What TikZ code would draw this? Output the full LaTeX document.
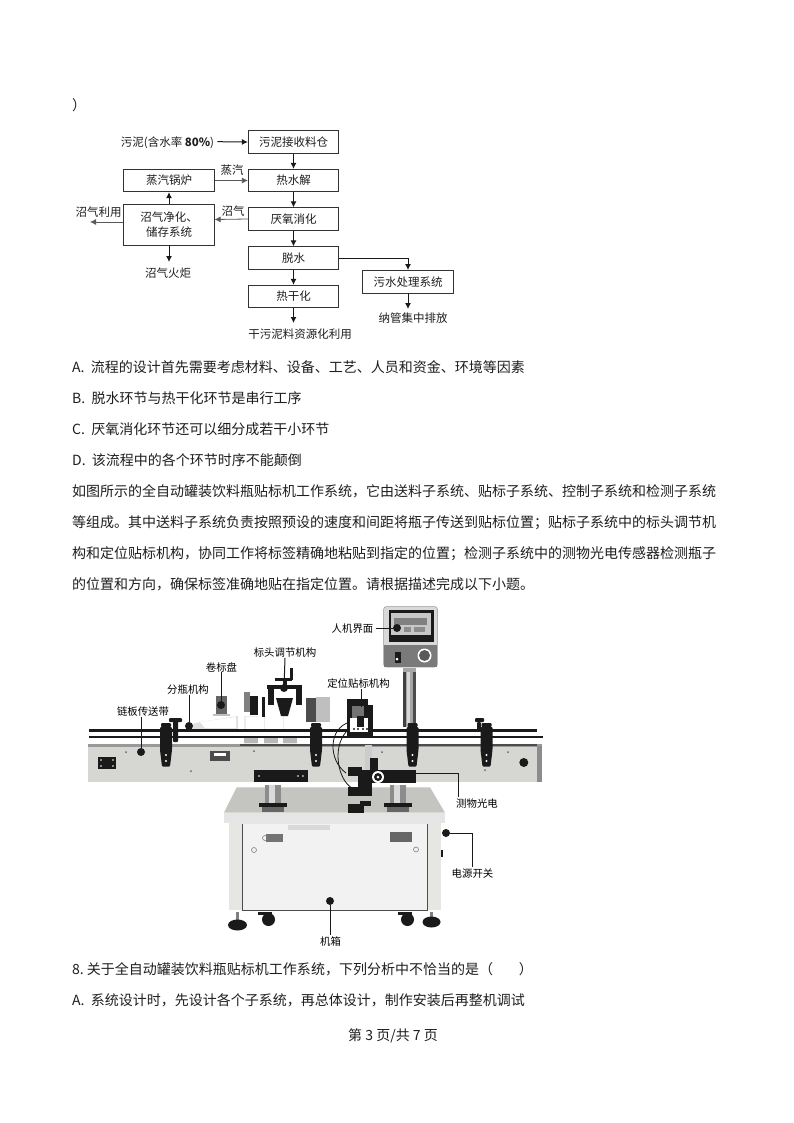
\documentclass[tikz,border=0pt]{standalone}
\usepackage{fontspec}
\setmainfont{Noto Sans CJK SC}
\usetikzlibrary{arrows.meta,calc}
\definecolor{inkc}{HTML}{1E1E1E}
\definecolor{plate}{HTML}{D6D6D2}
\definecolor{plated}{HTML}{C4C4C0}
\definecolor{doorc}{HTML}{E6E6E2}
\definecolor{darkm}{HTML}{1A1A1A}
\newcommand{\fbt}[1]{\raisebox{-1.3pt}{#1}}
\tikzset{
  bodytext/.style={anchor=west,inner sep=0pt,yshift=-1.5pt,font=\fontsize{14}{14}\selectfont,text=inkc},
  flowbox/.style={draw=black!80,line width=0.7pt,minimum width=90.5pt,minimum height=22.6pt,inner sep=0pt,font=\fontsize{11.5}{15}\selectfont,text=inkc,align=center},
  flowtext/.style={inner sep=0pt,yshift=-1.5pt,font=\fontsize{11.5}{12}\selectfont,text=inkc},
  flowarrow/.style={-{Latex[length=6pt,width=6pt]},line width=1pt,draw=black!90},
  graydarrow/.style={-{Latex[length=6pt,width=6pt]},line width=0.8pt,draw=black!65},
  calllabel/.style={inner sep=0pt,yshift=-1pt,font=\fontsize{10.4}{11}\selectfont,text=black},
  calldot/.style={circle,fill=darkm,inner sep=0pt,minimum size=8pt},
  leader/.style={line width=1pt,draw=darkm},
  blackpart/.style={fill=darkm,draw=none},
  clampm/.style={fill=darkm,draw=none,rounded corners=1pt}
}
\begin{document}
\begin{tikzpicture}[x=1pt,y=-1pt]
\useasboundingbox (0,0) rectangle (793,1123);
\fill[white] (0,0) rectangle (793,1123);

% --- page text ---
\node[bodytext] (bracket) at (72,104) {）};
\node[bodytext] (optA) at (72,366) {A.\ \ 流程的设计首先需要考虑材料、设备、工艺、人员和资金、环境等因素};
\node[bodytext] (optB) at (72,397) {B.\ \ 脱水环节与热干化环节是串行工序};
\node[bodytext] (optC) at (72,428) {C.\ \ 厌氧消化环节还可以细分成若干小环节};
\node[bodytext] (optD) at (72,459) {D.\ \ 该流程中的各个环节时序不能颠倒};
\node[bodytext] (para1) at (72,490) {如图所示的全自动罐装饮料瓶贴标机工作系统，它由送料子系统、贴标子系统、控制子系统和检测子系统};
\node[bodytext] (para2) at (72,521) {等组成。其中送料子系统负责按照预设的速度和间距将瓶子传送到贴标位置；贴标子系统中的标头调节机};
\node[bodytext] (para3) at (72,552) {构和定位贴标机构，协同工作将标签精确地粘贴到指定的位置；检测子系统中的测物光电传感器检测瓶子};
\node[bodytext] (para4) at (72,583) {的位置和方向，确保标签准确地贴在指定位置。请根据描述完成以下小题。};
\node[bodytext] (q8) at (72,968) {8.\ 关于全自动罐装饮料瓶贴标机工作系统，下列分析中不恰当的是（\hspace{26pt}）};
\node[bodytext] (q8A) at (72,999) {A.\ \ 系统设计时，先设计各个子系统，再总体设计，制作安装后再整机调试};
\node[bodytext,anchor=center] (foot) at (393,1034) {第 3 页/共 7 页};

% --- flow chart ---
\node[flowbox] (b1) at (293.5,142) {\fbt{污泥接收料仓}};
\node[flowbox] (b2) at (293.5,180.5) {\fbt{热水解}};
\node[flowbox] (b3) at (293.5,219) {\fbt{厌氧消化}};
\node[flowbox] (b4) at (293.5,258) {\fbt{脱水}};
\node[flowbox] (b5) at (293.5,296.5) {\fbt{热干化}};
\node[flowbox] (boiler) at (169,180.5) {\fbt{蒸汽锅炉}};
\node[flowbox,minimum height=41pt] (gas) at (169,224.5) {\fbt{沼气净化、}\\\fbt{储存系统}};
\node[flowbox] (sew) at (408,281.7) {\fbt{污水处理系统}};
\node[flowtext] (src) at (167.5,141.7) {污泥(含水率 {\bfseries 80\%})};
\node[flowtext] (steam) at (232,169) {蒸汽};
\node[flowtext] (biogas) at (233,210) {沼气};
\node[flowtext] (use) at (98.5,211) {沼气利用};
\node[flowtext] (torch) at (168,272) {沼气火炬};
\node[flowtext] (dry) at (300,333) {干污泥料资源化利用};
\node[flowtext] (drain) at (413,317) {纳管集中排放};
\coordinate (useend) at (90,222);
\draw[flowarrow] ([xshift=3pt,yshift=1.5pt]src.east) -- (b1.west);
\draw[flowarrow] (b1) -- (b2);
\draw[flowarrow] (b2) -- (b3);
\draw[flowarrow] (b3) -- (b4);
\draw[flowarrow] (b4) -- (b5);
\draw[graydarrow] (boiler) -- (b2);
\draw[flowarrow] (gas) -- (boiler);
\draw[graydarrow] (b3.west) -- ([yshift=5pt]gas.east);
\draw[graydarrow] ([yshift=2.5pt]gas.west) -- (useend);
\draw[flowarrow] (gas.south) -- (169,262);
\draw[flowarrow] (b4.east) -| (sew.north);
\draw[flowarrow] (sew.south) -- (408,309);
\draw[flowarrow] (b5.south) -- (293.5,323);

% --- machine: control box and pole ---
\fill[black!35] (403,668) rectangle (416,727);
\fill[black!75] (403,672) rectangle (406,727);
\fill[black!70] (413,672) rectangle (416,727);
\fill[white!85!black] (407,672) rectangle (410,727);
\fill[black!15,rounded corners=3pt,draw=black!40,line width=0.5pt] (383.5,606.5) rectangle (437.5,667);
\fill[darkm] (389,610) rectangle (433.5,641.5);
\fill[black!22] (391,613) rectangle (431,634.5);
\fill[black!50] (394,618) rectangle (427,625);
\fill[black!45] (404,627) rectangle (411,632);
\fill[black!45] (414,627) rectangle (425,632);
\fill[black!52] (384,644.5) rectangle (437,666.5);
\fill[darkm] (395,652) rectangle (401,663);
\fill[white] (397,659) circle (1.5pt);
\fill[white] (424.5,655.5) circle (7pt);
\fill[black!65] (424.5,655.5) circle (5.5pt);

% --- machine: conveyor ---
\fill[plate] (87.5,744) rectangle (541.5,781.5);
\fill[black!40] (87.5,744) rectangle (541.5,747);
\fill[black!45] (537,746) rectangle (541.5,781.5);
\fill[darkm] (98,757) rectangle (116,768.5);
\foreach \px/\py in {101/760,113/760,101/766,113/766}{\fill[white] (\px,\py) circle (0.9pt);}
\fill[darkm] (523.8,762.5) circle (4.5pt);
\fill[black!70] (210,751) rectangle (230,761);
\fill[white] (214,753) rectangle (226,756);
\foreach \px/\py in {126/752,191/771,254/751,382/752,485/770,508/752}{\fill[black!60] (\px,\py) circle (1pt);}

% --- machine: bottles and labelling head ---
\fill[black!12] (192,724) -- (200,722) -- (238,716) -- (238,731) -- (192,731) -- cycle;
\fill[white] (200,722) -- (236,717) -- (236,728) -- (205,728) -- cycle;
\fill[black!60] (216,696) rectangle (227,714);
\fill[black!25] (213,714) rectangle (230,716);
\foreach \bx in {250,270,289}{
  \fill[black!8] (\bx-6,744) rectangle (\bx+8,716);
  \fill[black!28] (\bx-6,738) rectangle (\bx+8,743);
}
\fill[white] (246,717) rectangle (258,731);
\fill[white] (265,712) rectangle (280,731);
\fill[white] (284,712) rectangle (300,731);
\fill[black!50] (244,692) rectangle (250,712);
\fill[darkm] (250,696) rectangle (258,715);
\fill[darkm] (262,697) rectangle (265,717);
\fill[black!70] (306,698) rectangle (316,722);
\fill[black!25] (316,697) rectangle (330,722);
% head
\fill[darkm] (267,685) rectangle (302,689);
\fill[darkm] (268,689) rectangle (274,705);
\fill[darkm] (296,689) rectangle (302,705);
\fill[darkm] (275,678) rectangle (292,681);
\fill[darkm] (283,681) rectangle (287,690);
\fill[darkm] (290,668) rectangle (293,680);
\fill[darkm] (276,698) -- (293,698) -- (288,716) -- (281,716) -- cycle;

% --- machine: rails ---
\fill[white] (89,731) rectangle (543,736);
\fill[darkm] (89,729) rectangle (537,731.5);
\fill[darkm] (89,735.8) rectangle (543,737.5);
\fill[black!70] (240,744) rectangle (537,746);

% --- machine: clamps ---
\foreach \cx in {166,316,412.5,486.5}{
  \fill[clampm] (\cx-6,727) -- (\cx+6,727) -- (\cx+6,750) -- (\cx+4,766.5) -- (\cx-4,766.5) -- (\cx-6,750) -- cycle;
  \fill[clampm] (\cx-5,723) rectangle (\cx+5,727);
  \fill[white] (\cx,755) circle (1.2pt);
  \fill[white] (\cx,761) circle (1.2pt);
}
\fill[clampm] (173,721) rectangle (178,742);
\fill[clampm] (169,718) rectangle (182,722);
\fill[clampm] (477,722) rectangle (481,730);
\fill[clampm] (475,718) rectangle (484,722);

% --- machine: base table ---
\fill[plated] (236.7,787.3) -- (430,787.3) -- (445,812.7) -- (224,812.7) -- cycle;
\fill[black!10] (224,812.7) rectangle (445,823);
\fill[doorc] (228.5,823) rectangle (440.5,910);
\fill[black!5] (242.3,824) rectangle (427.3,910);
\draw[black!70,line width=0.7pt] (242.3,824) -- (242.3,910) -- (427.3,910) -- (427.3,824);
\fill[black!15] (288,825) rectangle (330,830);
% warning plates
\fill[black!55] (266,834) rectangle (283,842);
\fill[black!60] (390,832) rectangle (412,842);
\draw[black!50,line width=0.6pt] (265,838) circle (2.5pt);
\draw[black!50,line width=0.6pt] (416,849.5) circle (2.5pt);
\draw[black!50,line width=0.6pt] (254,850) circle (2.5pt);
\fill[darkm] (441,850) rectangle (443,857);
% posts
\foreach \qx in {273.3,398.3}{
  \fill[black!45] (\qx-8,785) rectangle (\qx+8,806);
  \fill[black!15] (\qx-4,785) rectangle (\qx+2,806);
  \fill[darkm] (\qx-14,803) rectangle (\qx+14,807);
  \fill[black!60] (\qx-11,807) rectangle (\qx+11,812);
}
% feet and castors
\fill[black!50] (236,912) rectangle (239,922);
\fill[darkm] (237.5,925) ellipse (9.5pt and 5.5pt);
\fill[black!50] (430,912) rectangle (433,920);
\fill[darkm] (431.5,922) ellipse (9pt and 5.5pt);
\fill[darkm] (268.5,919.5) circle (6.5pt);
\fill[darkm] (407.5,919.5) circle (6.5pt);
\fill[darkm] (258,912) rectangle (272,915);
\fill[darkm] (398,912) rectangle (412,915);

% --- machine: cross bars and detector head ---
\fill[darkm] (254,770) rectangle (308,781.7);
\fill[darkm] (367,770) rectangle (416,783);
\foreach \px in {259,298,303}{\fill[white] (\px,776) circle (0.9pt);}
\fill[darkm] (348,767) rectangle (362,776);
\fill[black!20] (365,745) rectangle (372,770);
\fill[darkm] (370,758) rectangle (378,772);
\fill[darkm] (348,787) rectangle (372,796);
\fill[darkm] (358,770) rectangle (372,790);
\fill[white] (378,777) circle (6pt);
\fill[darkm] (378,777) circle (4pt);
\fill[white] (378,777) circle (1.5pt);
\fill[darkm] (360,801) rectangle (371,806);
\fill[darkm] (348,804) rectangle (364,813);
\draw[darkm,line width=0.8pt] (350,722) .. controls (328,728) and (328,760) .. (346,773);
\draw[darkm,line width=0.8pt] (346,732) .. controls (332,748) and (338,780) .. (352,788);
% positioning head
\fill[darkm] (347,699) rectangle (368,705);
\fill[darkm] (347,705) rectangle (373,737);
\fill[black!55] (352,706) rectangle (364,724);
\fill[white] (350,718) rectangle (368,732);
\fill[darkm] (357,716) rectangle (364,727);
\foreach \px in {354,358,363,367}{\fill[darkm] (\px,729) circle (1.2pt);}

% --- callouts ---
\node[calllabel] (lhmi) at (352.5,628) {人机界面};
\node[calllabel] (lpos) at (358.5,683) {定位贴标机构};
\node[calllabel] (lhead) at (285,652) {标头调节机构};
\node[calllabel] (lreel) at (221.5,666) {卷标盘};
\node[calllabel] (lsplit) at (188,689) {分瓶机构};
\node[calllabel] (lchain) at (143,711) {链板传送带};
\node[calllabel] (lsens) at (477,803) {测物光电};
\node[calllabel] (lpow) at (472.5,873) {电源开关};
\node[calllabel] (lcase) at (330.5,941) {机箱};
\node[calldot] (dhmi) at (397,628) {};
\node[calldot] (dhead) at (284,688) {};
\node[calldot] (dreel) at (221,705) {};
\node[calldot] (dsplit) at (189,726) {};
\node[calldot] (dchain) at (141,752) {};
\node[calldot] (dpow) at (446,833) {};
\node[calldot] (dcase) at (330,901) {};
\coordinate (psens) at (416,773);
\coordinate (ppos) at (361,707);
\draw[leader] ([xshift=2pt,yshift=1pt]lhmi.east) -- (dhmi);
\draw[leader] (lpos.south -| ppos) -- (ppos);
\draw[leader] (lhead.south) -- (dhead);
\draw[leader] (lreel.south -| dreel) -- (dreel);
\draw[leader] (lsplit.south -| dsplit) -- (dsplit);
\draw[leader] (lchain.south -| dchain) -- (dchain);
\draw[leader] (psens) -| ([yshift=2pt,xshift=-19pt]lsens.north);
\draw[leader] (dpow) -| ([yshift=2pt]lpow.north);
\draw[leader] (dcase) -- ([yshift=2pt]lcase.north -| dcase);
\end{tikzpicture}
\end{document}
